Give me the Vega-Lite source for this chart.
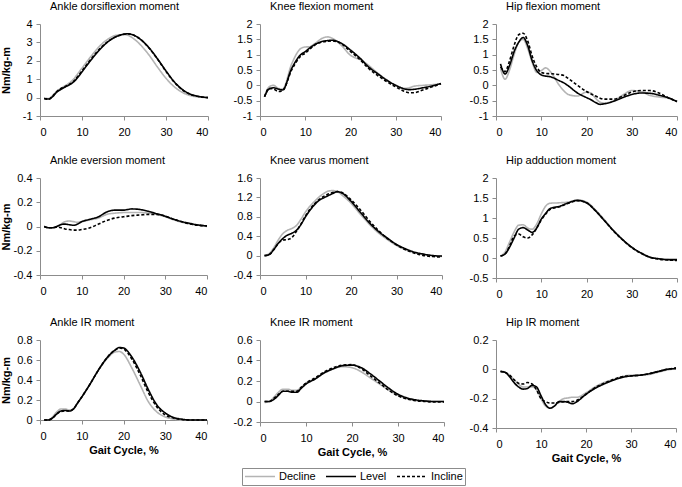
{
"$schema":"https://vega.github.io/schema/vega-lite/v6.json",
"autosize":{"type":"pad"},
"padding":{"left":0,"top":1,"right":0,"bottom":0},
"data":{"values":[
{"p":1,"c":"Decline","x":1,"y":-0.03},{"p":1,"c":"Decline","x":2,"y":-0.05},{"p":1,"c":"Decline","x":3,"y":0.1},{"p":1,"c":"Decline","x":4,"y":0.35},{"p":1,"c":"Decline","x":5,"y":0.5},{"p":1,"c":"Decline","x":6,"y":0.65},{"p":1,"c":"Decline","x":7,"y":0.8},{"p":1,"c":"Decline","x":8,"y":1.0},{"p":1,"c":"Decline","x":9,"y":1.3},{"p":1,"c":"Decline","x":10,"y":1.6},{"p":1,"c":"Decline","x":12,"y":2.2},{"p":1,"c":"Decline","x":14,"y":2.75},{"p":1,"c":"Decline","x":16,"y":3.15},{"p":1,"c":"Decline","x":18,"y":3.38},{"p":1,"c":"Decline","x":20,"y":3.42},{"p":1,"c":"Decline","x":21,"y":3.38},{"p":1,"c":"Decline","x":22,"y":3.25},{"p":1,"c":"Decline","x":24,"y":2.85},{"p":1,"c":"Decline","x":26,"y":2.3},{"p":1,"c":"Decline","x":28,"y":1.65},{"p":1,"c":"Decline","x":30,"y":1.05},{"p":1,"c":"Decline","x":32,"y":0.58},{"p":1,"c":"Decline","x":34,"y":0.27},{"p":1,"c":"Decline","x":36,"y":0.1},{"p":1,"c":"Decline","x":38,"y":0.03},{"p":1,"c":"Decline","x":40,"y":0},
{"p":1,"c":"Incline","x":1,"y":-0.05},{"p":1,"c":"Incline","x":2,"y":-0.1},{"p":1,"c":"Incline","x":3,"y":0.08},{"p":1,"c":"Incline","x":4,"y":0.33},{"p":1,"c":"Incline","x":5,"y":0.5},{"p":1,"c":"Incline","x":6,"y":0.6},{"p":1,"c":"Incline","x":7,"y":0.72},{"p":1,"c":"Incline","x":8,"y":0.88},{"p":1,"c":"Incline","x":9,"y":1.15},{"p":1,"c":"Incline","x":10,"y":1.45},{"p":1,"c":"Incline","x":12,"y":2.05},{"p":1,"c":"Incline","x":14,"y":2.6},{"p":1,"c":"Incline","x":16,"y":3.02},{"p":1,"c":"Incline","x":18,"y":3.3},{"p":1,"c":"Incline","x":20,"y":3.44},{"p":1,"c":"Incline","x":21,"y":3.46},{"p":1,"c":"Incline","x":22,"y":3.42},{"p":1,"c":"Incline","x":24,"y":3.15},{"p":1,"c":"Incline","x":26,"y":2.68},{"p":1,"c":"Incline","x":28,"y":2.08},{"p":1,"c":"Incline","x":30,"y":1.42},{"p":1,"c":"Incline","x":32,"y":0.83},{"p":1,"c":"Incline","x":34,"y":0.4},{"p":1,"c":"Incline","x":36,"y":0.16},{"p":1,"c":"Incline","x":38,"y":0.05},{"p":1,"c":"Incline","x":40,"y":0},
{"p":1,"c":"Level","x":1,"y":-0.05},{"p":1,"c":"Level","x":2,"y":-0.08},{"p":1,"c":"Level","x":3,"y":0.05},{"p":1,"c":"Level","x":4,"y":0.3},{"p":1,"c":"Level","x":5,"y":0.45},{"p":1,"c":"Level","x":6,"y":0.58},{"p":1,"c":"Level","x":7,"y":0.7},{"p":1,"c":"Level","x":8,"y":0.85},{"p":1,"c":"Level","x":9,"y":1.1},{"p":1,"c":"Level","x":10,"y":1.4},{"p":1,"c":"Level","x":12,"y":2.0},{"p":1,"c":"Level","x":14,"y":2.55},{"p":1,"c":"Level","x":16,"y":3.0},{"p":1,"c":"Level","x":18,"y":3.3},{"p":1,"c":"Level","x":20,"y":3.45},{"p":1,"c":"Level","x":21,"y":3.47},{"p":1,"c":"Level","x":22,"y":3.42},{"p":1,"c":"Level","x":24,"y":3.15},{"p":1,"c":"Level","x":26,"y":2.7},{"p":1,"c":"Level","x":28,"y":2.1},{"p":1,"c":"Level","x":30,"y":1.45},{"p":1,"c":"Level","x":32,"y":0.85},{"p":1,"c":"Level","x":34,"y":0.42},{"p":1,"c":"Level","x":36,"y":0.17},{"p":1,"c":"Level","x":38,"y":0.05},{"p":1,"c":"Level","x":40,"y":0},

{"p":2,"c":"Decline","x":1,"y":-0.37},{"p":2,"c":"Decline","x":2,"y":-0.05},{"p":2,"c":"Decline","x":3,"y":0.0},{"p":2,"c":"Decline","x":4,"y":-0.1},{"p":2,"c":"Decline","x":5,"y":-0.12},{"p":2,"c":"Decline","x":7,"y":0.7},{"p":2,"c":"Decline","x":9,"y":1.2},{"p":2,"c":"Decline","x":10,"y":1.25},{"p":2,"c":"Decline","x":11,"y":1.26},{"p":2,"c":"Decline","x":12,"y":1.35},{"p":2,"c":"Decline","x":14,"y":1.55},{"p":2,"c":"Decline","x":15,"y":1.58},{"p":2,"c":"Decline","x":16,"y":1.53},{"p":2,"c":"Decline","x":18,"y":1.3},{"p":2,"c":"Decline","x":20,"y":0.98},{"p":2,"c":"Decline","x":21,"y":0.9},{"p":2,"c":"Decline","x":22,"y":0.85},{"p":2,"c":"Decline","x":24,"y":0.65},{"p":2,"c":"Decline","x":26,"y":0.4},{"p":2,"c":"Decline","x":28,"y":0.18},{"p":2,"c":"Decline","x":30,"y":0.0},{"p":2,"c":"Decline","x":32,"y":-0.1},{"p":2,"c":"Decline","x":33,"y":-0.08},{"p":2,"c":"Decline","x":34,"y":-0.03},{"p":2,"c":"Decline","x":36,"y":0.0},{"p":2,"c":"Decline","x":38,"y":0.02},{"p":2,"c":"Decline","x":40,"y":0.05},
{"p":2,"c":"Incline","x":1,"y":-0.37},{"p":2,"c":"Incline","x":2,"y":-0.1},{"p":2,"c":"Incline","x":3,"y":-0.12},{"p":2,"c":"Incline","x":4,"y":-0.2},{"p":2,"c":"Incline","x":5,"y":-0.17},{"p":2,"c":"Incline","x":7,"y":0.5},{"p":2,"c":"Incline","x":9,"y":0.95},{"p":2,"c":"Incline","x":10,"y":1.05},{"p":2,"c":"Incline","x":11,"y":1.18},{"p":2,"c":"Incline","x":12,"y":1.3},{"p":2,"c":"Incline","x":14,"y":1.42},{"p":2,"c":"Incline","x":15,"y":1.44},{"p":2,"c":"Incline","x":16,"y":1.45},{"p":2,"c":"Incline","x":18,"y":1.35},{"p":2,"c":"Incline","x":20,"y":1.1},{"p":2,"c":"Incline","x":21,"y":0.98},{"p":2,"c":"Incline","x":22,"y":0.85},{"p":2,"c":"Incline","x":24,"y":0.55},{"p":2,"c":"Incline","x":26,"y":0.32},{"p":2,"c":"Incline","x":28,"y":0.12},{"p":2,"c":"Incline","x":30,"y":-0.05},{"p":2,"c":"Incline","x":32,"y":-0.2},{"p":2,"c":"Incline","x":33,"y":-0.24},{"p":2,"c":"Incline","x":34,"y":-0.24},{"p":2,"c":"Incline","x":36,"y":-0.15},{"p":2,"c":"Incline","x":38,"y":-0.05},{"p":2,"c":"Incline","x":40,"y":0.05},
{"p":2,"c":"Level","x":1,"y":-0.37},{"p":2,"c":"Level","x":2,"y":-0.12},{"p":2,"c":"Level","x":3,"y":-0.08},{"p":2,"c":"Level","x":4,"y":-0.12},{"p":2,"c":"Level","x":5,"y":-0.15},{"p":2,"c":"Level","x":7,"y":0.55},{"p":2,"c":"Level","x":9,"y":1.0},{"p":2,"c":"Level","x":10,"y":1.1},{"p":2,"c":"Level","x":11,"y":1.22},{"p":2,"c":"Level","x":12,"y":1.32},{"p":2,"c":"Level","x":14,"y":1.44},{"p":2,"c":"Level","x":15,"y":1.46},{"p":2,"c":"Level","x":16,"y":1.47},{"p":2,"c":"Level","x":18,"y":1.37},{"p":2,"c":"Level","x":20,"y":1.15},{"p":2,"c":"Level","x":21,"y":1.03},{"p":2,"c":"Level","x":22,"y":0.9},{"p":2,"c":"Level","x":24,"y":0.6},{"p":2,"c":"Level","x":26,"y":0.38},{"p":2,"c":"Level","x":28,"y":0.17},{"p":2,"c":"Level","x":30,"y":0.0},{"p":2,"c":"Level","x":32,"y":-0.12},{"p":2,"c":"Level","x":33,"y":-0.14},{"p":2,"c":"Level","x":34,"y":-0.13},{"p":2,"c":"Level","x":36,"y":-0.08},{"p":2,"c":"Level","x":38,"y":-0.02},{"p":2,"c":"Level","x":40,"y":0.06},

{"p":3,"c":"Decline","x":1,"y":0.55},{"p":3,"c":"Decline","x":2,"y":0.2},{"p":3,"c":"Decline","x":3,"y":0.5},{"p":3,"c":"Decline","x":4,"y":1.0},{"p":3,"c":"Decline","x":5,"y":1.4},{"p":3,"c":"Decline","x":6,"y":1.5},{"p":3,"c":"Decline","x":7,"y":1.2},{"p":3,"c":"Decline","x":8,"y":0.75},{"p":3,"c":"Decline","x":9,"y":0.42},{"p":3,"c":"Decline","x":10,"y":0.48},{"p":3,"c":"Decline","x":11,"y":0.57},{"p":3,"c":"Decline","x":12,"y":0.45},{"p":3,"c":"Decline","x":14,"y":0.0},{"p":3,"c":"Decline","x":15,"y":-0.18},{"p":3,"c":"Decline","x":16,"y":-0.3},{"p":3,"c":"Decline","x":18,"y":-0.35},{"p":3,"c":"Decline","x":20,"y":-0.22},{"p":3,"c":"Decline","x":21,"y":-0.25},{"p":3,"c":"Decline","x":22,"y":-0.42},{"p":3,"c":"Decline","x":23,"y":-0.55},{"p":3,"c":"Decline","x":24,"y":-0.58},{"p":3,"c":"Decline","x":26,"y":-0.5},{"p":3,"c":"Decline","x":28,"y":-0.32},{"p":3,"c":"Decline","x":30,"y":-0.17},{"p":3,"c":"Decline","x":32,"y":-0.2},{"p":3,"c":"Decline","x":34,"y":-0.33},{"p":3,"c":"Decline","x":36,"y":-0.38},{"p":3,"c":"Decline","x":38,"y":-0.42},{"p":3,"c":"Decline","x":40,"y":-0.53},
{"p":3,"c":"Incline","x":1,"y":0.6},{"p":3,"c":"Incline","x":2,"y":0.45},{"p":3,"c":"Incline","x":3,"y":0.8},{"p":3,"c":"Incline","x":4,"y":1.3},{"p":3,"c":"Incline","x":5,"y":1.65},{"p":3,"c":"Incline","x":6,"y":1.7},{"p":3,"c":"Incline","x":7,"y":1.45},{"p":3,"c":"Incline","x":8,"y":0.95},{"p":3,"c":"Incline","x":9,"y":0.6},{"p":3,"c":"Incline","x":10,"y":0.42},{"p":3,"c":"Incline","x":11,"y":0.39},{"p":3,"c":"Incline","x":12,"y":0.38},{"p":3,"c":"Incline","x":14,"y":0.35},{"p":3,"c":"Incline","x":15,"y":0.32},{"p":3,"c":"Incline","x":16,"y":0.22},{"p":3,"c":"Incline","x":18,"y":0.0},{"p":3,"c":"Incline","x":20,"y":-0.2},{"p":3,"c":"Incline","x":21,"y":-0.28},{"p":3,"c":"Incline","x":22,"y":-0.35},{"p":3,"c":"Incline","x":23,"y":-0.42},{"p":3,"c":"Incline","x":24,"y":-0.45},{"p":3,"c":"Incline","x":26,"y":-0.45},{"p":3,"c":"Incline","x":28,"y":-0.35},{"p":3,"c":"Incline","x":30,"y":-0.22},{"p":3,"c":"Incline","x":32,"y":-0.17},{"p":3,"c":"Incline","x":34,"y":-0.17},{"p":3,"c":"Incline","x":36,"y":-0.25},{"p":3,"c":"Incline","x":38,"y":-0.4},{"p":3,"c":"Incline","x":40,"y":-0.53},
{"p":3,"c":"Level","x":1,"y":0.7},{"p":3,"c":"Level","x":2,"y":0.37},{"p":3,"c":"Level","x":3,"y":0.65},{"p":3,"c":"Level","x":4,"y":1.1},{"p":3,"c":"Level","x":5,"y":1.4},{"p":3,"c":"Level","x":6,"y":1.56},{"p":3,"c":"Level","x":7,"y":1.3},{"p":3,"c":"Level","x":8,"y":0.8},{"p":3,"c":"Level","x":9,"y":0.48},{"p":3,"c":"Level","x":10,"y":0.34},{"p":3,"c":"Level","x":11,"y":0.3},{"p":3,"c":"Level","x":12,"y":0.28},{"p":3,"c":"Level","x":14,"y":0.15},{"p":3,"c":"Level","x":15,"y":0.08},{"p":3,"c":"Level","x":16,"y":-0.02},{"p":3,"c":"Level","x":18,"y":-0.25},{"p":3,"c":"Level","x":20,"y":-0.4},{"p":3,"c":"Level","x":21,"y":-0.47},{"p":3,"c":"Level","x":22,"y":-0.56},{"p":3,"c":"Level","x":23,"y":-0.62},{"p":3,"c":"Level","x":24,"y":-0.6},{"p":3,"c":"Level","x":26,"y":-0.52},{"p":3,"c":"Level","x":28,"y":-0.4},{"p":3,"c":"Level","x":30,"y":-0.3},{"p":3,"c":"Level","x":32,"y":-0.25},{"p":3,"c":"Level","x":34,"y":-0.26},{"p":3,"c":"Level","x":36,"y":-0.32},{"p":3,"c":"Level","x":38,"y":-0.4},{"p":3,"c":"Level","x":40,"y":-0.53},

{"p":4,"c":"Decline","x":1,"y":0},{"p":4,"c":"Decline","x":2,"y":-0.01},{"p":4,"c":"Decline","x":3,"y":-0.01},{"p":4,"c":"Decline","x":4,"y":0.0},{"p":4,"c":"Decline","x":5,"y":0.02},{"p":4,"c":"Decline","x":6,"y":0.04},{"p":4,"c":"Decline","x":7,"y":0.045},{"p":4,"c":"Decline","x":8,"y":0.04},{"p":4,"c":"Decline","x":9,"y":0.035},{"p":4,"c":"Decline","x":10,"y":0.04},{"p":4,"c":"Decline","x":12,"y":0.055},{"p":4,"c":"Decline","x":14,"y":0.07},{"p":4,"c":"Decline","x":16,"y":0.1},{"p":4,"c":"Decline","x":18,"y":0.11},{"p":4,"c":"Decline","x":20,"y":0.115},{"p":4,"c":"Decline","x":22,"y":0.115},{"p":4,"c":"Decline","x":24,"y":0.115},{"p":4,"c":"Decline","x":26,"y":0.11},{"p":4,"c":"Decline","x":28,"y":0.1},{"p":4,"c":"Decline","x":30,"y":0.08},{"p":4,"c":"Decline","x":32,"y":0.055},{"p":4,"c":"Decline","x":34,"y":0.035},{"p":4,"c":"Decline","x":36,"y":0.02},{"p":4,"c":"Decline","x":38,"y":0.01},{"p":4,"c":"Decline","x":40,"y":0.0},
{"p":4,"c":"Incline","x":1,"y":0},{"p":4,"c":"Incline","x":2,"y":-0.01},{"p":4,"c":"Incline","x":3,"y":-0.01},{"p":4,"c":"Incline","x":4,"y":-0.005},{"p":4,"c":"Incline","x":5,"y":-0.01},{"p":4,"c":"Incline","x":6,"y":-0.02},{"p":4,"c":"Incline","x":7,"y":-0.025},{"p":4,"c":"Incline","x":8,"y":-0.03},{"p":4,"c":"Incline","x":9,"y":-0.03},{"p":4,"c":"Incline","x":10,"y":-0.025},{"p":4,"c":"Incline","x":12,"y":-0.01},{"p":4,"c":"Incline","x":14,"y":0.02},{"p":4,"c":"Incline","x":16,"y":0.05},{"p":4,"c":"Incline","x":18,"y":0.07},{"p":4,"c":"Incline","x":20,"y":0.08},{"p":4,"c":"Incline","x":22,"y":0.09},{"p":4,"c":"Incline","x":24,"y":0.095},{"p":4,"c":"Incline","x":26,"y":0.1},{"p":4,"c":"Incline","x":28,"y":0.1},{"p":4,"c":"Incline","x":30,"y":0.085},{"p":4,"c":"Incline","x":32,"y":0.06},{"p":4,"c":"Incline","x":34,"y":0.04},{"p":4,"c":"Incline","x":36,"y":0.02},{"p":4,"c":"Incline","x":38,"y":0.01},{"p":4,"c":"Incline","x":40,"y":0.005},
{"p":4,"c":"Level","x":1,"y":0},{"p":4,"c":"Level","x":2,"y":-0.01},{"p":4,"c":"Level","x":3,"y":-0.01},{"p":4,"c":"Level","x":4,"y":0.0},{"p":4,"c":"Level","x":5,"y":0.015},{"p":4,"c":"Level","x":6,"y":0.02},{"p":4,"c":"Level","x":7,"y":0.015},{"p":4,"c":"Level","x":8,"y":0.01},{"p":4,"c":"Level","x":9,"y":0.02},{"p":4,"c":"Level","x":10,"y":0.04},{"p":4,"c":"Level","x":12,"y":0.06},{"p":4,"c":"Level","x":14,"y":0.08},{"p":4,"c":"Level","x":16,"y":0.12},{"p":4,"c":"Level","x":18,"y":0.135},{"p":4,"c":"Level","x":20,"y":0.135},{"p":4,"c":"Level","x":22,"y":0.145},{"p":4,"c":"Level","x":24,"y":0.14},{"p":4,"c":"Level","x":26,"y":0.125},{"p":4,"c":"Level","x":28,"y":0.105},{"p":4,"c":"Level","x":30,"y":0.085},{"p":4,"c":"Level","x":32,"y":0.06},{"p":4,"c":"Level","x":34,"y":0.04},{"p":4,"c":"Level","x":36,"y":0.025},{"p":4,"c":"Level","x":38,"y":0.012},{"p":4,"c":"Level","x":40,"y":0.005},

{"p":5,"c":"Decline","x":1,"y":0},{"p":5,"c":"Decline","x":2,"y":0.04},{"p":5,"c":"Decline","x":3,"y":0.16},{"p":5,"c":"Decline","x":4,"y":0.32},{"p":5,"c":"Decline","x":5,"y":0.45},{"p":5,"c":"Decline","x":6,"y":0.52},{"p":5,"c":"Decline","x":7,"y":0.56},{"p":5,"c":"Decline","x":8,"y":0.62},{"p":5,"c":"Decline","x":9,"y":0.75},{"p":5,"c":"Decline","x":10,"y":0.9},{"p":5,"c":"Decline","x":12,"y":1.12},{"p":5,"c":"Decline","x":14,"y":1.28},{"p":5,"c":"Decline","x":15,"y":1.33},{"p":5,"c":"Decline","x":16,"y":1.34},{"p":5,"c":"Decline","x":17,"y":1.32},{"p":5,"c":"Decline","x":18,"y":1.25},{"p":5,"c":"Decline","x":20,"y":1.08},{"p":5,"c":"Decline","x":22,"y":0.86},{"p":5,"c":"Decline","x":24,"y":0.65},{"p":5,"c":"Decline","x":26,"y":0.47},{"p":5,"c":"Decline","x":28,"y":0.33},{"p":5,"c":"Decline","x":30,"y":0.21},{"p":5,"c":"Decline","x":32,"y":0.12},{"p":5,"c":"Decline","x":34,"y":0.06},{"p":5,"c":"Decline","x":36,"y":0.02},{"p":5,"c":"Decline","x":38,"y":0.0},{"p":5,"c":"Decline","x":40,"y":-0.02},
{"p":5,"c":"Incline","x":1,"y":0},{"p":5,"c":"Incline","x":2,"y":0.02},{"p":5,"c":"Incline","x":3,"y":0.12},{"p":5,"c":"Incline","x":4,"y":0.25},{"p":5,"c":"Incline","x":5,"y":0.32},{"p":5,"c":"Incline","x":6,"y":0.33},{"p":5,"c":"Incline","x":7,"y":0.37},{"p":5,"c":"Incline","x":8,"y":0.5},{"p":5,"c":"Incline","x":9,"y":0.65},{"p":5,"c":"Incline","x":10,"y":0.82},{"p":5,"c":"Incline","x":12,"y":1.07},{"p":5,"c":"Incline","x":14,"y":1.22},{"p":5,"c":"Incline","x":16,"y":1.3},{"p":5,"c":"Incline","x":17,"y":1.32},{"p":5,"c":"Incline","x":18,"y":1.3},{"p":5,"c":"Incline","x":20,"y":1.15},{"p":5,"c":"Incline","x":22,"y":0.95},{"p":5,"c":"Incline","x":24,"y":0.72},{"p":5,"c":"Incline","x":26,"y":0.52},{"p":5,"c":"Incline","x":28,"y":0.35},{"p":5,"c":"Incline","x":30,"y":0.22},{"p":5,"c":"Incline","x":32,"y":0.12},{"p":5,"c":"Incline","x":34,"y":0.05},{"p":5,"c":"Incline","x":36,"y":0.0},{"p":5,"c":"Incline","x":38,"y":-0.02},{"p":5,"c":"Incline","x":40,"y":-0.03},
{"p":5,"c":"Level","x":1,"y":0},{"p":5,"c":"Level","x":2,"y":0.02},{"p":5,"c":"Level","x":3,"y":0.12},{"p":5,"c":"Level","x":4,"y":0.25},{"p":5,"c":"Level","x":5,"y":0.35},{"p":5,"c":"Level","x":6,"y":0.42},{"p":5,"c":"Level","x":7,"y":0.46},{"p":5,"c":"Level","x":8,"y":0.52},{"p":5,"c":"Level","x":9,"y":0.64},{"p":5,"c":"Level","x":10,"y":0.8},{"p":5,"c":"Level","x":12,"y":1.05},{"p":5,"c":"Level","x":13,"y":1.14},{"p":5,"c":"Level","x":14,"y":1.19},{"p":5,"c":"Level","x":16,"y":1.28},{"p":5,"c":"Level","x":17,"y":1.32},{"p":5,"c":"Level","x":18,"y":1.29},{"p":5,"c":"Level","x":20,"y":1.12},{"p":5,"c":"Level","x":22,"y":0.9},{"p":5,"c":"Level","x":24,"y":0.68},{"p":5,"c":"Level","x":26,"y":0.5},{"p":5,"c":"Level","x":28,"y":0.36},{"p":5,"c":"Level","x":30,"y":0.23},{"p":5,"c":"Level","x":32,"y":0.14},{"p":5,"c":"Level","x":34,"y":0.07},{"p":5,"c":"Level","x":36,"y":0.03},{"p":5,"c":"Level","x":38,"y":0.0},{"p":5,"c":"Level","x":40,"y":-0.01},

{"p":6,"c":"Decline","x":1,"y":0.05},{"p":6,"c":"Decline","x":2,"y":0.15},{"p":6,"c":"Decline","x":3,"y":0.4},{"p":6,"c":"Decline","x":4,"y":0.65},{"p":6,"c":"Decline","x":5,"y":0.82},{"p":6,"c":"Decline","x":6,"y":0.83},{"p":6,"c":"Decline","x":7,"y":0.75},{"p":6,"c":"Decline","x":8,"y":0.72},{"p":6,"c":"Decline","x":9,"y":0.85},{"p":6,"c":"Decline","x":10,"y":1.1},{"p":6,"c":"Decline","x":11,"y":1.3},{"p":6,"c":"Decline","x":12,"y":1.37},{"p":6,"c":"Decline","x":14,"y":1.38},{"p":6,"c":"Decline","x":16,"y":1.4},{"p":6,"c":"Decline","x":18,"y":1.45},{"p":6,"c":"Decline","x":20,"y":1.4},{"p":6,"c":"Decline","x":22,"y":1.2},{"p":6,"c":"Decline","x":24,"y":0.95},{"p":6,"c":"Decline","x":26,"y":0.68},{"p":6,"c":"Decline","x":28,"y":0.45},{"p":6,"c":"Decline","x":30,"y":0.26},{"p":6,"c":"Decline","x":32,"y":0.12},{"p":6,"c":"Decline","x":34,"y":0.02},{"p":6,"c":"Decline","x":36,"y":-0.02},{"p":6,"c":"Decline","x":38,"y":-0.04},{"p":6,"c":"Decline","x":40,"y":-0.05},
{"p":6,"c":"Incline","x":1,"y":0.05},{"p":6,"c":"Incline","x":2,"y":0.1},{"p":6,"c":"Incline","x":3,"y":0.3},{"p":6,"c":"Incline","x":4,"y":0.55},{"p":6,"c":"Incline","x":5,"y":0.6},{"p":6,"c":"Incline","x":6,"y":0.53},{"p":6,"c":"Incline","x":7,"y":0.5},{"p":6,"c":"Incline","x":8,"y":0.58},{"p":6,"c":"Incline","x":9,"y":0.75},{"p":6,"c":"Incline","x":10,"y":0.95},{"p":6,"c":"Incline","x":11,"y":1.1},{"p":6,"c":"Incline","x":12,"y":1.22},{"p":6,"c":"Incline","x":14,"y":1.28},{"p":6,"c":"Incline","x":16,"y":1.37},{"p":6,"c":"Incline","x":18,"y":1.43},{"p":6,"c":"Incline","x":20,"y":1.38},{"p":6,"c":"Incline","x":22,"y":1.18},{"p":6,"c":"Incline","x":24,"y":0.93},{"p":6,"c":"Incline","x":26,"y":0.67},{"p":6,"c":"Incline","x":28,"y":0.45},{"p":6,"c":"Incline","x":30,"y":0.26},{"p":6,"c":"Incline","x":32,"y":0.12},{"p":6,"c":"Incline","x":34,"y":0.02},{"p":6,"c":"Incline","x":36,"y":-0.03},{"p":6,"c":"Incline","x":38,"y":-0.05},{"p":6,"c":"Incline","x":40,"y":-0.06},
{"p":6,"c":"Level","x":1,"y":0.05},{"p":6,"c":"Level","x":2,"y":0.1},{"p":6,"c":"Level","x":3,"y":0.27},{"p":6,"c":"Level","x":4,"y":0.5},{"p":6,"c":"Level","x":5,"y":0.72},{"p":6,"c":"Level","x":6,"y":0.76},{"p":6,"c":"Level","x":7,"y":0.7},{"p":6,"c":"Level","x":8,"y":0.64},{"p":6,"c":"Level","x":9,"y":0.75},{"p":6,"c":"Level","x":10,"y":0.97},{"p":6,"c":"Level","x":11,"y":1.12},{"p":6,"c":"Level","x":12,"y":1.24},{"p":6,"c":"Level","x":14,"y":1.29},{"p":6,"c":"Level","x":16,"y":1.38},{"p":6,"c":"Level","x":18,"y":1.44},{"p":6,"c":"Level","x":20,"y":1.38},{"p":6,"c":"Level","x":22,"y":1.18},{"p":6,"c":"Level","x":24,"y":0.93},{"p":6,"c":"Level","x":26,"y":0.68},{"p":6,"c":"Level","x":28,"y":0.46},{"p":6,"c":"Level","x":30,"y":0.27},{"p":6,"c":"Level","x":32,"y":0.13},{"p":6,"c":"Level","x":34,"y":0.02},{"p":6,"c":"Level","x":36,"y":-0.02},{"p":6,"c":"Level","x":38,"y":-0.04},{"p":6,"c":"Level","x":40,"y":-0.04},

{"p":7,"c":"Decline","x":1,"y":0},{"p":7,"c":"Decline","x":2,"y":0},{"p":7,"c":"Decline","x":3,"y":0.03},{"p":7,"c":"Decline","x":4,"y":0.08},{"p":7,"c":"Decline","x":5,"y":0.11},{"p":7,"c":"Decline","x":6,"y":0.11},{"p":7,"c":"Decline","x":7,"y":0.1},{"p":7,"c":"Decline","x":8,"y":0.11},{"p":7,"c":"Decline","x":9,"y":0.17},{"p":7,"c":"Decline","x":10,"y":0.23},{"p":7,"c":"Decline","x":12,"y":0.36},{"p":7,"c":"Decline","x":14,"y":0.5},{"p":7,"c":"Decline","x":16,"y":0.61},{"p":7,"c":"Decline","x":18,"y":0.68},{"p":7,"c":"Decline","x":19,"y":0.685},{"p":7,"c":"Decline","x":20,"y":0.66},{"p":7,"c":"Decline","x":22,"y":0.52},{"p":7,"c":"Decline","x":24,"y":0.35},{"p":7,"c":"Decline","x":26,"y":0.18},{"p":7,"c":"Decline","x":28,"y":0.08},{"p":7,"c":"Decline","x":30,"y":0.03},{"p":7,"c":"Decline","x":32,"y":0.01},{"p":7,"c":"Decline","x":34,"y":0},{"p":7,"c":"Decline","x":36,"y":0},{"p":7,"c":"Decline","x":38,"y":0},{"p":7,"c":"Decline","x":40,"y":0},
{"p":7,"c":"Incline","x":1,"y":0},{"p":7,"c":"Incline","x":2,"y":0},{"p":7,"c":"Incline","x":3,"y":0.02},{"p":7,"c":"Incline","x":4,"y":0.06},{"p":7,"c":"Incline","x":5,"y":0.085},{"p":7,"c":"Incline","x":6,"y":0.09},{"p":7,"c":"Incline","x":7,"y":0.09},{"p":7,"c":"Incline","x":8,"y":0.11},{"p":7,"c":"Incline","x":9,"y":0.17},{"p":7,"c":"Incline","x":10,"y":0.23},{"p":7,"c":"Incline","x":12,"y":0.36},{"p":7,"c":"Incline","x":14,"y":0.5},{"p":7,"c":"Incline","x":16,"y":0.62},{"p":7,"c":"Incline","x":18,"y":0.7},{"p":7,"c":"Incline","x":19,"y":0.72},{"p":7,"c":"Incline","x":20,"y":0.71},{"p":7,"c":"Incline","x":22,"y":0.61},{"p":7,"c":"Incline","x":24,"y":0.45},{"p":7,"c":"Incline","x":26,"y":0.27},{"p":7,"c":"Incline","x":28,"y":0.13},{"p":7,"c":"Incline","x":30,"y":0.05},{"p":7,"c":"Incline","x":32,"y":0.02},{"p":7,"c":"Incline","x":34,"y":0.005},{"p":7,"c":"Incline","x":36,"y":0},{"p":7,"c":"Incline","x":38,"y":0},{"p":7,"c":"Incline","x":40,"y":0},
{"p":7,"c":"Level","x":1,"y":0},{"p":7,"c":"Level","x":2,"y":0},{"p":7,"c":"Level","x":3,"y":0.02},{"p":7,"c":"Level","x":4,"y":0.06},{"p":7,"c":"Level","x":5,"y":0.09},{"p":7,"c":"Level","x":6,"y":0.095},{"p":7,"c":"Level","x":7,"y":0.09},{"p":7,"c":"Level","x":8,"y":0.11},{"p":7,"c":"Level","x":9,"y":0.17},{"p":7,"c":"Level","x":10,"y":0.23},{"p":7,"c":"Level","x":12,"y":0.36},{"p":7,"c":"Level","x":14,"y":0.5},{"p":7,"c":"Level","x":16,"y":0.62},{"p":7,"c":"Level","x":18,"y":0.7},{"p":7,"c":"Level","x":19,"y":0.725},{"p":7,"c":"Level","x":20,"y":0.72},{"p":7,"c":"Level","x":22,"y":0.63},{"p":7,"c":"Level","x":24,"y":0.48},{"p":7,"c":"Level","x":26,"y":0.3},{"p":7,"c":"Level","x":28,"y":0.15},{"p":7,"c":"Level","x":30,"y":0.07},{"p":7,"c":"Level","x":32,"y":0.025},{"p":7,"c":"Level","x":34,"y":0.008},{"p":7,"c":"Level","x":36,"y":0},{"p":7,"c":"Level","x":38,"y":0},{"p":7,"c":"Level","x":40,"y":0},

{"p":8,"c":"Decline","x":1,"y":-0.01},{"p":8,"c":"Decline","x":2,"y":0},{"p":8,"c":"Decline","x":3,"y":0.04},{"p":8,"c":"Decline","x":4,"y":0.09},{"p":8,"c":"Decline","x":5,"y":0.12},{"p":8,"c":"Decline","x":6,"y":0.12},{"p":8,"c":"Decline","x":7,"y":0.11},{"p":8,"c":"Decline","x":8,"y":0.11},{"p":8,"c":"Decline","x":9,"y":0.14},{"p":8,"c":"Decline","x":10,"y":0.18},{"p":8,"c":"Decline","x":12,"y":0.22},{"p":8,"c":"Decline","x":14,"y":0.28},{"p":8,"c":"Decline","x":16,"y":0.32},{"p":8,"c":"Decline","x":18,"y":0.34},{"p":8,"c":"Decline","x":20,"y":0.33},{"p":8,"c":"Decline","x":22,"y":0.29},{"p":8,"c":"Decline","x":24,"y":0.23},{"p":8,"c":"Decline","x":26,"y":0.17},{"p":8,"c":"Decline","x":28,"y":0.11},{"p":8,"c":"Decline","x":30,"y":0.06},{"p":8,"c":"Decline","x":32,"y":0.025},{"p":8,"c":"Decline","x":34,"y":0.008},{"p":8,"c":"Decline","x":36,"y":0.002},{"p":8,"c":"Decline","x":38,"y":0},{"p":8,"c":"Decline","x":40,"y":0},
{"p":8,"c":"Incline","x":1,"y":0},{"p":8,"c":"Incline","x":2,"y":0},{"p":8,"c":"Incline","x":3,"y":0.03},{"p":8,"c":"Incline","x":4,"y":0.07},{"p":8,"c":"Incline","x":5,"y":0.1},{"p":8,"c":"Incline","x":6,"y":0.1},{"p":8,"c":"Incline","x":7,"y":0.1},{"p":8,"c":"Incline","x":8,"y":0.1},{"p":8,"c":"Incline","x":9,"y":0.14},{"p":8,"c":"Incline","x":10,"y":0.18},{"p":8,"c":"Incline","x":12,"y":0.23},{"p":8,"c":"Incline","x":14,"y":0.29},{"p":8,"c":"Incline","x":16,"y":0.33},{"p":8,"c":"Incline","x":18,"y":0.355},{"p":8,"c":"Incline","x":20,"y":0.36},{"p":8,"c":"Incline","x":22,"y":0.32},{"p":8,"c":"Incline","x":24,"y":0.25},{"p":8,"c":"Incline","x":26,"y":0.18},{"p":8,"c":"Incline","x":28,"y":0.11},{"p":8,"c":"Incline","x":30,"y":0.055},{"p":8,"c":"Incline","x":32,"y":0.025},{"p":8,"c":"Incline","x":34,"y":0.008},{"p":8,"c":"Incline","x":36,"y":0},{"p":8,"c":"Incline","x":38,"y":-0.005},{"p":8,"c":"Incline","x":40,"y":-0.005},
{"p":8,"c":"Level","x":1,"y":0},{"p":8,"c":"Level","x":2,"y":0},{"p":8,"c":"Level","x":3,"y":0.02},{"p":8,"c":"Level","x":4,"y":0.06},{"p":8,"c":"Level","x":5,"y":0.1},{"p":8,"c":"Level","x":6,"y":0.1},{"p":8,"c":"Level","x":7,"y":0.09},{"p":8,"c":"Level","x":8,"y":0.09},{"p":8,"c":"Level","x":9,"y":0.13},{"p":8,"c":"Level","x":10,"y":0.17},{"p":8,"c":"Level","x":12,"y":0.22},{"p":8,"c":"Level","x":14,"y":0.28},{"p":8,"c":"Level","x":16,"y":0.32},{"p":8,"c":"Level","x":18,"y":0.35},{"p":8,"c":"Level","x":20,"y":0.355},{"p":8,"c":"Level","x":22,"y":0.33},{"p":8,"c":"Level","x":24,"y":0.27},{"p":8,"c":"Level","x":26,"y":0.2},{"p":8,"c":"Level","x":28,"y":0.13},{"p":8,"c":"Level","x":30,"y":0.07},{"p":8,"c":"Level","x":32,"y":0.035},{"p":8,"c":"Level","x":34,"y":0.015},{"p":8,"c":"Level","x":36,"y":0.005},{"p":8,"c":"Level","x":38,"y":0},{"p":8,"c":"Level","x":40,"y":0},

{"p":9,"c":"Decline","x":1,"y":-0.01},{"p":9,"c":"Decline","x":2,"y":-0.02},{"p":9,"c":"Decline","x":3,"y":-0.04},{"p":9,"c":"Decline","x":4,"y":-0.07},{"p":9,"c":"Decline","x":5,"y":-0.1},{"p":9,"c":"Decline","x":6,"y":-0.12},{"p":9,"c":"Decline","x":7,"y":-0.12},{"p":9,"c":"Decline","x":8,"y":-0.12},{"p":9,"c":"Decline","x":9,"y":-0.14},{"p":9,"c":"Decline","x":10,"y":-0.2},{"p":9,"c":"Decline","x":11,"y":-0.25},{"p":9,"c":"Decline","x":12,"y":-0.265},{"p":9,"c":"Decline","x":13,"y":-0.25},{"p":9,"c":"Decline","x":14,"y":-0.22},{"p":9,"c":"Decline","x":15,"y":-0.2},{"p":9,"c":"Decline","x":16,"y":-0.195},{"p":9,"c":"Decline","x":17,"y":-0.19},{"p":9,"c":"Decline","x":18,"y":-0.19},{"p":9,"c":"Decline","x":20,"y":-0.16},{"p":9,"c":"Decline","x":22,"y":-0.12},{"p":9,"c":"Decline","x":24,"y":-0.09},{"p":9,"c":"Decline","x":26,"y":-0.07},{"p":9,"c":"Decline","x":28,"y":-0.05},{"p":9,"c":"Decline","x":30,"y":-0.04},{"p":9,"c":"Decline","x":32,"y":-0.04},{"p":9,"c":"Decline","x":34,"y":-0.035},{"p":9,"c":"Decline","x":36,"y":-0.02},{"p":9,"c":"Decline","x":38,"y":-0.005},{"p":9,"c":"Decline","x":40,"y":0.005},
{"p":9,"c":"Incline","x":1,"y":-0.015},{"p":9,"c":"Incline","x":2,"y":-0.02},{"p":9,"c":"Incline","x":3,"y":-0.04},{"p":9,"c":"Incline","x":4,"y":-0.07},{"p":9,"c":"Incline","x":5,"y":-0.095},{"p":9,"c":"Incline","x":6,"y":-0.1},{"p":9,"c":"Incline","x":7,"y":-0.09},{"p":9,"c":"Incline","x":8,"y":-0.1},{"p":9,"c":"Incline","x":9,"y":-0.14},{"p":9,"c":"Incline","x":10,"y":-0.2},{"p":9,"c":"Incline","x":11,"y":-0.22},{"p":9,"c":"Incline","x":12,"y":-0.23},{"p":9,"c":"Incline","x":13,"y":-0.23},{"p":9,"c":"Incline","x":14,"y":-0.225},{"p":9,"c":"Incline","x":16,"y":-0.22},{"p":9,"c":"Incline","x":17,"y":-0.22},{"p":9,"c":"Incline","x":18,"y":-0.21},{"p":9,"c":"Incline","x":20,"y":-0.17},{"p":9,"c":"Incline","x":22,"y":-0.125},{"p":9,"c":"Incline","x":24,"y":-0.095},{"p":9,"c":"Incline","x":26,"y":-0.07},{"p":9,"c":"Incline","x":28,"y":-0.05},{"p":9,"c":"Incline","x":30,"y":-0.045},{"p":9,"c":"Incline","x":32,"y":-0.04},{"p":9,"c":"Incline","x":34,"y":-0.03},{"p":9,"c":"Incline","x":36,"y":-0.015},{"p":9,"c":"Incline","x":38,"y":0},{"p":9,"c":"Incline","x":40,"y":0.01},
{"p":9,"c":"Level","x":1,"y":-0.015},{"p":9,"c":"Level","x":2,"y":-0.02},{"p":9,"c":"Level","x":3,"y":-0.05},{"p":9,"c":"Level","x":4,"y":-0.09},{"p":9,"c":"Level","x":5,"y":-0.12},{"p":9,"c":"Level","x":6,"y":-0.135},{"p":9,"c":"Level","x":7,"y":-0.13},{"p":9,"c":"Level","x":8,"y":-0.11},{"p":9,"c":"Level","x":9,"y":-0.12},{"p":9,"c":"Level","x":10,"y":-0.18},{"p":9,"c":"Level","x":11,"y":-0.24},{"p":9,"c":"Level","x":12,"y":-0.265},{"p":9,"c":"Level","x":13,"y":-0.25},{"p":9,"c":"Level","x":14,"y":-0.22},{"p":9,"c":"Level","x":15,"y":-0.22},{"p":9,"c":"Level","x":16,"y":-0.225},{"p":9,"c":"Level","x":17,"y":-0.235},{"p":9,"c":"Level","x":18,"y":-0.22},{"p":9,"c":"Level","x":20,"y":-0.17},{"p":9,"c":"Level","x":22,"y":-0.13},{"p":9,"c":"Level","x":24,"y":-0.1},{"p":9,"c":"Level","x":26,"y":-0.075},{"p":9,"c":"Level","x":28,"y":-0.055},{"p":9,"c":"Level","x":30,"y":-0.045},{"p":9,"c":"Level","x":32,"y":-0.04},{"p":9,"c":"Level","x":34,"y":-0.03},{"p":9,"c":"Level","x":36,"y":-0.015},{"p":9,"c":"Level","x":38,"y":0},{"p":9,"c":"Level","x":40,"y":0.005}
]},
"config":{
"view":{"stroke":null},
"font":"Liberation Sans",
"title":{"anchor":"start","frame":"group","dx":10,"fontSize":11,"fontWeight":"normal","font":"Liberation Sans","color":"#000","offset":6},
"axis":{"grid":false,"domainColor":"#8c8c8c","tickColor":"#8c8c8c","tickSize":4,"labelFont":"Liberation Sans","labelFontSize":11,"labelColor":"#000","titleFont":"Liberation Sans","titleFontSize":11,"titleFontWeight":"bold","titleColor":"#000","labelExpr":"'' + datum.value"},
"axisX":{"labelPadding":6,"titlePadding":3},
"axisY":{"labelPadding":4,"titlePadding":2,"minExtent":27,"maxExtent":27},
"legend":{"strokeColor":"#8c8c8c","padding":2,"symbolType":"stroke","symbolSize":900,"symbolStrokeWidth":1.5,"clipHeight":13,"labelFont":"Liberation Sans","labelFontSize":11,"labelColor":"#000","columnPadding":9,"labelOffset":3}
},
"columns":3,
"align":"none",
"bounds":"flush",
"spacing":{"row":62,"column":52},
"resolve":{"scale":{"color":"shared","strokeDash":"shared"},"legend":{"color":"shared","strokeDash":"shared"}},
"concat":[
{"width":168,"height":92,"title":"Ankle dorsiflexion moment","transform":[{"filter":"datum.p==1"}],"mark":{"type":"line","interpolate":"monotone","strokeWidth":1.6},"encoding":{"x":{"field":"x","type":"quantitative","scale":{"domain":[0,40],"nice":false},"axis":{"values":[0,10,20,30,40],"title":null}},"y":{"field":"y","type":"quantitative","scale":{"domain":[-1,4],"nice":false,"zero":false},"axis":{"values":[-1,0,1,2,3,4],"title":"Nm/kg-m"}},"color":{"field":"c","type":"nominal","scale":{"domain":["Decline","Level","Incline"],"range":["#b4b4b4","#000000","#000000"]},"legend":{"title":null,"orient":"none","direction":"horizontal","legendX":202,"legendY":444}},"strokeDash":{"field":"c","type":"nominal","scale":{"domain":["Decline","Level","Incline"],"range":[[1,0],[1,0],[3,2]]},"legend":{"title":null,"orient":"none","direction":"horizontal","legendX":202,"legendY":444}}}},
{"width":181,"height":92,"title":"Knee flexion moment","transform":[{"filter":"datum.p==2"}],"mark":{"type":"line","interpolate":"monotone","strokeWidth":1.6},"encoding":{"x":{"field":"x","type":"quantitative","scale":{"domain":[0,40],"nice":false},"axis":{"values":[0,10,20,30,40],"title":null}},"y":{"field":"y","type":"quantitative","scale":{"domain":[-1,2],"nice":false,"zero":false},"axis":{"values":[-1,-0.5,0,0.5,1,1.5,2],"title":null}},"color":{"field":"c","type":"nominal","scale":{"domain":["Decline","Level","Incline"],"range":["#b4b4b4","#000000","#000000"]},"legend":{"title":null,"orient":"none","direction":"horizontal","legendX":202,"legendY":444}},"strokeDash":{"field":"c","type":"nominal","scale":{"domain":["Decline","Level","Incline"],"range":[[1,0],[1,0],[3,2]]},"legend":{"title":null,"orient":"none","direction":"horizontal","legendX":202,"legendY":444}}}},
{"width":181,"height":92,"title":"Hip flexion moment","transform":[{"filter":"datum.p==3"}],"mark":{"type":"line","interpolate":"monotone","strokeWidth":1.6},"encoding":{"x":{"field":"x","type":"quantitative","scale":{"domain":[0,40],"nice":false},"axis":{"values":[0,10,20,30,40],"title":null}},"y":{"field":"y","type":"quantitative","scale":{"domain":[-1,2],"nice":false,"zero":false},"axis":{"values":[-1,-0.5,0,0.5,1,1.5,2],"title":null}},"color":{"field":"c","type":"nominal","scale":{"domain":["Decline","Level","Incline"],"range":["#b4b4b4","#000000","#000000"]},"legend":{"title":null,"orient":"none","direction":"horizontal","legendX":202,"legendY":444}},"strokeDash":{"field":"c","type":"nominal","scale":{"domain":["Decline","Level","Incline"],"range":[[1,0],[1,0],[3,2]]},"legend":{"title":null,"orient":"none","direction":"horizontal","legendX":202,"legendY":444}}}},
{"width":167,"height":97,"title":"Ankle eversion moment","transform":[{"filter":"datum.p==4"}],"mark":{"type":"line","interpolate":"monotone","strokeWidth":1.6},"encoding":{"x":{"field":"x","type":"quantitative","scale":{"domain":[0,40],"nice":false},"axis":{"values":[0,10,20,30,40],"title":null}},"y":{"field":"y","type":"quantitative","scale":{"domain":[-0.4,0.4],"nice":false,"zero":false},"axis":{"values":[-0.4,-0.2,0,0.2,0.4],"title":"Nm/kg-m"}},"color":{"field":"c","type":"nominal","scale":{"domain":["Decline","Level","Incline"],"range":["#b4b4b4","#000000","#000000"]},"legend":{"title":null,"orient":"none","direction":"horizontal","legendX":202,"legendY":444}},"strokeDash":{"field":"c","type":"nominal","scale":{"domain":["Decline","Level","Incline"],"range":[[1,0],[1,0],[3,2]]},"legend":{"title":null,"orient":"none","direction":"horizontal","legendX":202,"legendY":444}}}},
{"width":182,"height":97,"title":"Knee varus moment","transform":[{"filter":"datum.p==5"}],"mark":{"type":"line","interpolate":"monotone","strokeWidth":1.6},"encoding":{"x":{"field":"x","type":"quantitative","scale":{"domain":[0,40],"nice":false},"axis":{"values":[0,10,20,30,40],"title":null}},"y":{"field":"y","type":"quantitative","scale":{"domain":[-0.4,1.6],"nice":false,"zero":false},"axis":{"values":[-0.4,0,0.4,0.8,1.2,1.6],"title":null}},"color":{"field":"c","type":"nominal","scale":{"domain":["Decline","Level","Incline"],"range":["#b4b4b4","#000000","#000000"]},"legend":{"title":null,"orient":"none","direction":"horizontal","legendX":202,"legendY":444}},"strokeDash":{"field":"c","type":"nominal","scale":{"domain":["Decline","Level","Incline"],"range":[[1,0],[1,0],[3,2]]},"legend":{"title":null,"orient":"none","direction":"horizontal","legendX":202,"legendY":444}}}},
{"width":181,"height":100,"title":"Hip adduction moment","transform":[{"filter":"datum.p==6"}],"mark":{"type":"line","interpolate":"monotone","strokeWidth":1.6},"encoding":{"x":{"field":"x","type":"quantitative","scale":{"domain":[0,40],"nice":false},"axis":{"values":[0,10,20,30,40],"title":null}},"y":{"field":"y","type":"quantitative","scale":{"domain":[-0.5,2],"nice":false,"zero":false},"axis":{"values":[-0.5,0,0.5,1,1.5,2],"title":null}},"color":{"field":"c","type":"nominal","scale":{"domain":["Decline","Level","Incline"],"range":["#b4b4b4","#000000","#000000"]},"legend":{"title":null,"orient":"none","direction":"horizontal","legendX":202,"legendY":444}},"strokeDash":{"field":"c","type":"nominal","scale":{"domain":["Decline","Level","Incline"],"range":[[1,0],[1,0],[3,2]]},"legend":{"title":null,"orient":"none","direction":"horizontal","legendX":202,"legendY":444}}}},
{"width":167,"height":80,"title":"Ankle IR moment","transform":[{"filter":"datum.p==7"}],"mark":{"type":"line","interpolate":"monotone","strokeWidth":1.6},"encoding":{"x":{"field":"x","type":"quantitative","scale":{"domain":[0,40],"nice":false},"axis":{"values":[0,10,20,30,40],"title":"Gait Cycle, %"}},"y":{"field":"y","type":"quantitative","scale":{"domain":[0,0.8],"nice":false,"zero":false},"axis":{"values":[0,0.2,0.4,0.6,0.8],"title":"Nm/kg-m"}},"color":{"field":"c","type":"nominal","scale":{"domain":["Decline","Level","Incline"],"range":["#b4b4b4","#000000","#000000"]},"legend":{"title":null,"orient":"none","direction":"horizontal","legendX":202,"legendY":444}},"strokeDash":{"field":"c","type":"nominal","scale":{"domain":["Decline","Level","Incline"],"range":[[1,0],[1,0],[3,2]]},"legend":{"title":null,"orient":"none","direction":"horizontal","legendX":202,"legendY":444}}}},
{"width":184,"height":82,"title":"Knee IR moment","transform":[{"filter":"datum.p==8"}],"mark":{"type":"line","interpolate":"monotone","strokeWidth":1.6},"encoding":{"x":{"field":"x","type":"quantitative","scale":{"domain":[0,40],"nice":false},"axis":{"values":[0,10,20,30,40],"title":"Gait Cycle, %"}},"y":{"field":"y","type":"quantitative","scale":{"domain":[-0.2,0.6],"nice":false,"zero":false},"axis":{"values":[-0.2,0,0.2,0.4,0.6],"title":null}},"color":{"field":"c","type":"nominal","scale":{"domain":["Decline","Level","Incline"],"range":["#b4b4b4","#000000","#000000"]},"legend":{"title":null,"orient":"none","direction":"horizontal","legendX":202,"legendY":444}},"strokeDash":{"field":"c","type":"nominal","scale":{"domain":["Decline","Level","Incline"],"range":[[1,0],[1,0],[3,2]]},"legend":{"title":null,"orient":"none","direction":"horizontal","legendX":202,"legendY":444}}}},
{"width":180,"height":88,"title":"Hip IR moment","transform":[{"filter":"datum.p==9"}],"mark":{"type":"line","interpolate":"monotone","strokeWidth":1.6},"encoding":{"x":{"field":"x","type":"quantitative","scale":{"domain":[0,40],"nice":false},"axis":{"values":[0,10,20,30,40],"title":"Gait Cycle, %"}},"y":{"field":"y","type":"quantitative","scale":{"domain":[-0.4,0.2],"nice":false,"zero":false},"axis":{"values":[-0.4,-0.2,0,0.2],"title":null}},"color":{"field":"c","type":"nominal","scale":{"domain":["Decline","Level","Incline"],"range":["#b4b4b4","#000000","#000000"]},"legend":{"title":null,"orient":"none","direction":"horizontal","legendX":202,"legendY":444}},"strokeDash":{"field":"c","type":"nominal","scale":{"domain":["Decline","Level","Incline"],"range":[[1,0],[1,0],[3,2]]},"legend":{"title":null,"orient":"none","direction":"horizontal","legendX":202,"legendY":444}}}}
]
}
